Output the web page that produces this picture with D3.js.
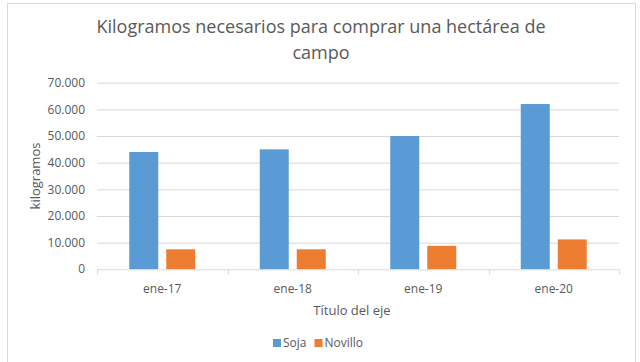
<!DOCTYPE html>
<html lang="es">
<head>
<meta charset="utf-8">
<style>
    body { margin: 0; background: #fff; }
    svg text { font-family: "Open Sans", "Noto Sans", sans-serif; fill: #595959; }
</style>
</head>
<body>
<svg width="640" height="362"></svg>
<script src="https://cdn.jsdelivr.net/npm/d3@7/dist/d3.min.js"></script>
<script>
// data
var categories = ["ene-17", "ene-18", "ene-19", "ene-20"];
var soja = [44000, 45000, 50000, 62000];
var novillo = [7500, 7500, 8800, 11200];
var seriesNames = ["Soja", "Novillo"];
var seriesColors = ["#5b9bd5", "#ed7d31"];
var yTicks = [0, 10000, 20000, 30000, 40000, 50000, 60000, 70000];

var svg = d3.select("svg");

// chart frame
svg.append("rect")
    .attr("x", 7.5).attr("y", 3.5)
    .attr("width", 628).attr("height", 370)
    .attr("fill", "none").attr("stroke", "#d9d9d9");

var margin = { left: 97, right: 21, top: 82.7, bottom: 92.7 },
    width = 640 - margin.left - margin.right,
    height = 362 - margin.top - margin.bottom;

var g = svg.append("g")
    .attr("transform", "translate(" + margin.left + "," + margin.top + ")");

var x = d3.scaleBand().domain(categories).range([0, width]);
var y = d3.scaleLinear().domain([0, 70000]).range([height, 0]);

var fmt = function(d) {
    return d === 0 ? "0" : d3.format(",")(d).replace(/,/g, ".");
};

// gridlines
g.selectAll(".grid")
    .data(yTicks.filter(function(d) { return d > 0; }))
    .enter().append("line")
    .attr("x1", 0).attr("x2", width)
    .attr("y1", function(d) { return y(d) + 0.5; })
    .attr("y2", function(d) { return y(d) + 0.5; })
    .attr("stroke", "#d9d9d9");

// y tick labels
g.selectAll(".ylab")
    .data(yTicks)
    .enter().append("text")
    .attr("x", -12)
    .attr("y", function(d) { return y(d); })
    .attr("dy", "0.35em")
    .attr("text-anchor", "end")
    .style("font-size", "12px")
    .text(fmt);

// bars
var table = categories.map(function(c, i) {
    return { cat: c, values: [soja[i], novillo[i]] };
});
var barW = 29, gap = 8;
var groups = g.selectAll(".cat")
    .data(table)
    .enter().append("g")
    .attr("transform", function(d) {
        return "translate(" + (x(d.cat) + x.bandwidth() / 2 - barW - gap / 2) + ",0)";
    });
groups.selectAll("rect")
    .data(function(d) { return d.values; })
    .enter().append("rect")
    .attr("x", function(d, i) { return i * (barW + gap); })
    .attr("y", function(d) { return y(d); })
    .attr("width", barW)
    .attr("height", function(d) { return height - y(d); })
    .attr("fill", function(d, i) { return seriesColors[i]; });

// x axis
var xAxis = g.append("g")
    .attr("transform", "translate(0," + height + ")");
xAxis.append("line")
    .attr("x1", 0).attr("x2", width)
    .attr("y1", 0.5).attr("y2", 0.5)
    .attr("stroke", "#d9d9d9");
xAxis.selectAll(".tick")
    .data(d3.range(categories.length + 1))
    .enter().append("line")
    .attr("x1", function(i) { return Math.round(i * x.step()) + 0.5; })
    .attr("x2", function(i) { return Math.round(i * x.step()) + 0.5; })
    .attr("y1", 0).attr("y2", 5)
    .attr("stroke", "#d9d9d9");
xAxis.selectAll(".xlab")
    .data(categories)
    .enter().append("text")
    .attr("x", function(d) { return x(d) + x.bandwidth() / 2; })
    .attr("y", 24)
    .attr("text-anchor", "middle")
    .style("font-size", "12px")
    .text(function(d) { return d; });

// axis titles
g.append("text")
    .attr("x", width / 2 - 6)
    .attr("y", height + 46)
    .attr("text-anchor", "middle")
    .style("font-size", "13px")
    .text("Título del eje");

svg.append("text")
    .attr("transform", "translate(40," + (margin.top + height / 2) + ") rotate(-90)")
    .attr("text-anchor", "middle")
    .style("font-size", "13px")
    .text("kilogramos");

// title
var title = svg.append("text")
    .attr("text-anchor", "middle")
    .style("font-size", "18px");
title.append("tspan").attr("x", 321).attr("y", 33)
    .text("Kilogramos necesarios para comprar una hectárea de");
title.append("tspan").attr("x", 321).attr("y", 59)
    .text("campo");

// legend
var legend = svg.append("g").attr("transform", "translate(273,347)");
var lx = 0;
seriesNames.forEach(function(name, i) {
    legend.append("rect")
        .attr("x", lx).attr("y", -8)
        .attr("width", 8).attr("height", 8)
        .attr("fill", seriesColors[i]);
    var t = legend.append("text")
        .attr("x", lx + 10).attr("y", 0)
        .style("font-size", "12px")
        .text(name);
    lx += 10 + t.node().getComputedTextLength() + 8;
});
</script>
</body>
</html>
